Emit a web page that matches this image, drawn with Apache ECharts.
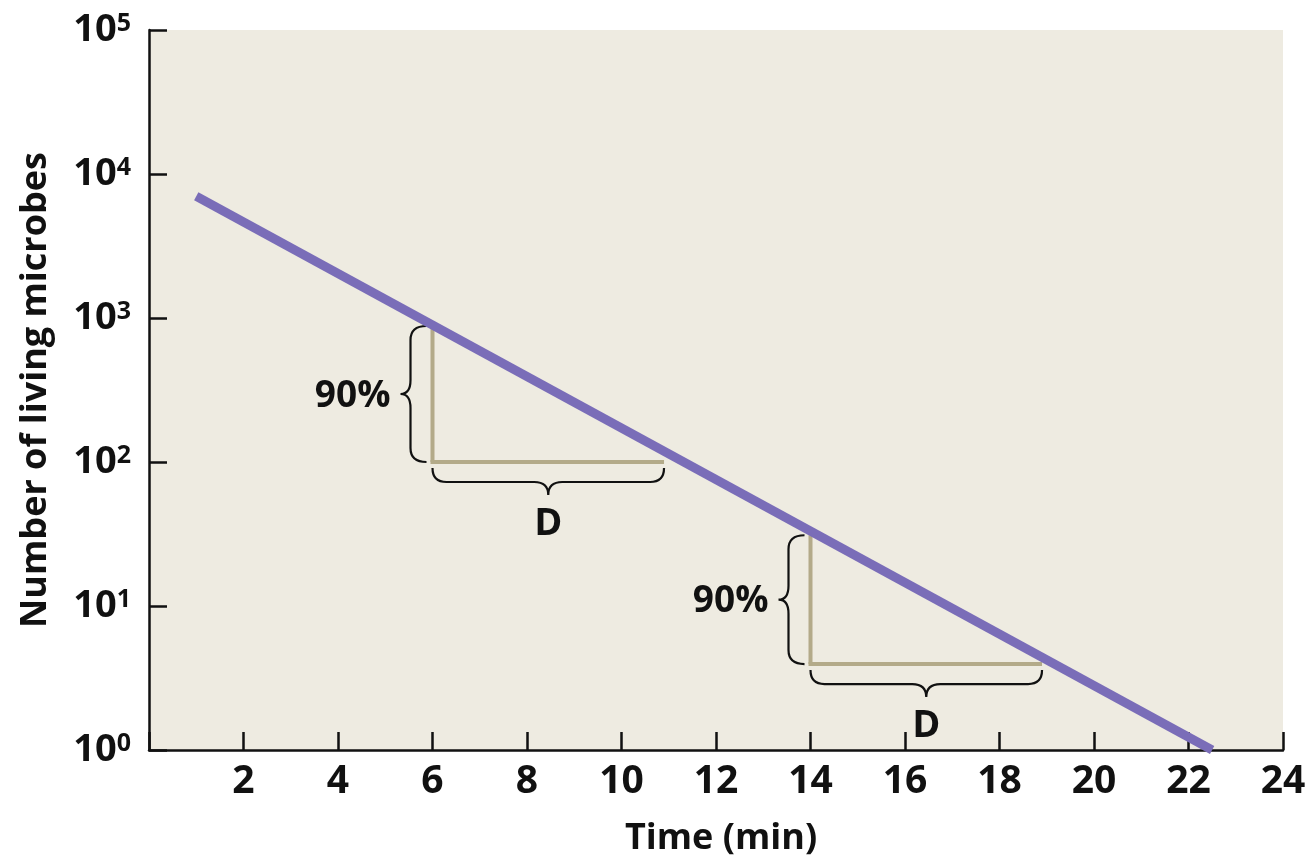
<!DOCTYPE html>
<html>
<head>
<meta charset="utf-8">
<script src="https://cdn.jsdelivr.net/npm/echarts@6/dist/echarts.min.js"></script>
<style>
  html, body { margin: 0; padding: 0; background: #ffffff; }
  #chart { width: 1313px; height: 862px; }
</style>
</head>
<body>
<div id="chart"></div>
<script>
// ---- data ----
const timeMin = [1, 22.5];
const livingMicrobes = [7000, 1];

const xTickValues = [0, 2, 4, 6, 8, 10, 12, 14, 16, 18, 20, 22, 24];
const yTickExponents = [0, 1, 2, 3, 4, 5];

// D-value triangles: vertical at triX0 from triLow to triHigh, horizontal at triLow to triX1
const triX0 = [6, 14];
const triX1 = [10.9, 18.9];
const triLow = [100, 3.95];
const triHigh = [880, 31];
const vBraceLabels = ['90%', '90%'];
const hBraceLabels = ['D', 'D'];

// ---- build ----
const FONT = '"Open Sans", "Noto Sans", sans-serif';
const lineData = timeMin.map((t, i) => [t, livingMicrobes[i]]);
const triData = triX0.map((x, i) => [x, triX1[i], triLow[i], triHigh[i], i]);

function renderTriangle(params, api) {
  const x0 = api.value(0), x1 = api.value(1), yl = api.value(2), yh = api.value(3);
  const idx = api.value(4);
  const pLow = api.coord([x0, yl]);
  const pHigh = api.coord([x0, yh]);
  const pEnd = api.coord([x1, yl]);
  const vx = pLow[0], hy = pLow[1], ty = pHigh[1], ex = pEnd[0];

  // left brace
  const xe = vx - 6, xs = vx - 22, xt = vx - 32, r = 14, ym = (ty + hy) / 2;
  const lb = `M${xe} ${ty} Q${xs} ${ty} ${xs} ${ty + r} L${xs} ${ym - r} Q${xs} ${ym} ${xt} ${ym} ` +
             `Q${xs} ${ym} ${xs} ${ym + r} L${xs} ${hy - r} Q${xs} ${hy} ${xe} ${hy}`;
  // bottom brace
  const ye = hy + 6, ys = hy + 20, yt = hy + 33, xm = (vx + ex) / 2;
  const bb = `M${vx} ${ye} Q${vx} ${ys} ${vx + r} ${ys} L${xm - r} ${ys} Q${xm} ${ys} ${xm} ${yt} ` +
             `Q${xm} ${ys} ${xm + r} ${ys} L${ex - r} ${ys} Q${ex} ${ys} ${ex} ${ye}`;

  const tan = '#b3aa89';
  return {
    type: 'group',
    children: [
      { type: 'line', shape: { x1: vx, y1: hy, x2: vx, y2: ty }, style: { stroke: tan, lineWidth: 4 } },
      { type: 'line', shape: { x1: vx - 2, y1: hy, x2: ex, y2: hy }, style: { stroke: tan, lineWidth: 4 } },
      { type: 'path', shape: { pathData: lb }, style: { stroke: '#111', lineWidth: 2.2, fill: 'none' } },
      { type: 'path', shape: { pathData: bb }, style: { stroke: '#111', lineWidth: 2.2, fill: 'none' } },
      { type: 'text', x: xt - 10, y: ym + 2,
        style: { text: vBraceLabels[idx], fill: '#111', fontSize: 37, fontWeight: 'bold', fontFamily: FONT,
                 align: 'right', verticalAlign: 'middle', textAlign: 'right', textVerticalAlign: 'middle' } },
      { type: 'text', x: xm, y: hy + 62,
        style: { text: hBraceLabels[idx], fill: '#111', fontSize: 38, fontWeight: 'bold', fontFamily: FONT,
                 align: 'center', verticalAlign: 'middle', textAlign: 'center', textVerticalAlign: 'middle' } }
    ]
  };
}

const chart = echarts.init(document.getElementById('chart'), null, { renderer: 'canvas' });
chart.setOption({
  animation: false,
  backgroundColor: '#ffffff',
  textStyle: { fontFamily: FONT, fontWeight: 'bold', color: '#111' },
  grid: {
    left: 149, right: 30, top: 30, bottom: 111,
    show: true, backgroundColor: '#eeebe1', borderWidth: 0
  },
  xAxis: {
    type: 'value',
    min: xTickValues[0], max: xTickValues[xTickValues.length - 1], interval: 2,
    name: 'Time (min)', nameLocation: 'middle', nameGap: 71,
    nameTextStyle: { fontSize: 36, fontWeight: 'bold', fontFamily: FONT, color: '#111', padding: [0, 0, 0, 10] },
    axisLine: { show: true, onZero: false, lineStyle: { color: '#111', width: 2.5 } },
    axisTick: { show: true, inside: true, length: 18, lineStyle: { color: '#111', width: 2.5 } },
    axisLabel: {
      margin: 12, fontSize: 39, fontWeight: 'bold', fontFamily: FONT, color: '#111',
      formatter: v => (xTickValues.indexOf(v) > 0 ? String(v) : '')
    },
    splitLine: { show: false }
  },
  yAxis: {
    type: 'log', logBase: 10,
    min: Math.pow(10, yTickExponents[0]), max: Math.pow(10, yTickExponents[yTickExponents.length - 1]),
    name: 'Number of living microbes', nameLocation: 'middle', nameRotate: 90, nameGap: 95,
    nameTextStyle: { fontSize: 36, fontWeight: 'bold', fontFamily: FONT, color: '#111' },
    axisLine: { show: true, lineStyle: { color: '#111', width: 2.5 } },
    axisTick: { show: true, inside: true, length: 18, lineStyle: { color: '#111', width: 2.5 } },
    axisLabel: {
      margin: 18, color: '#111',
      formatter: v => '{b|10}{s|' + Math.round(Math.log10(v)) + '}',
      rich: {
        b: { fontSize: 38, fontWeight: 'bold', fontFamily: FONT, color: '#111', lineHeight: 38 },
        s: { fontSize: 25, fontWeight: 'bold', fontFamily: FONT, color: '#111', lineHeight: 20, verticalAlign: 'top' }
      }
    },
    splitLine: { show: false }
  },
  series: [
    {
      type: 'custom',
      renderItem: renderTriangle,
      data: triData,
      encode: { x: [0, 1], y: [2, 3] },
      z: 2,
      silent: true
    },
    {
      type: 'line',
      data: lineData,
      symbol: 'none',
      z: 3,
      lineStyle: { color: '#7a6db8', width: 9, cap: 'butt' }
    }
  ]
});
</script>
</body>
</html>
